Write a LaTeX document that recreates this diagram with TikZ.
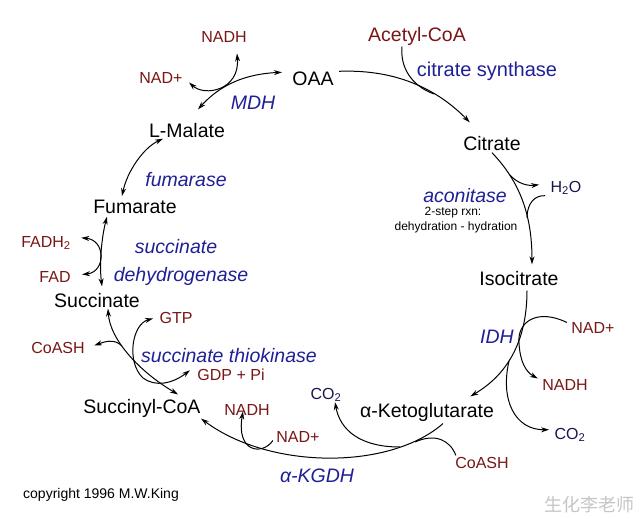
\documentclass[tikz,border=0pt]{standalone}
\usepackage{fontspec}
\setmainfont{Liberation Sans}
\newfontfamily\cjkfont{Noto Sans CJK SC}
\usepackage{xcolor}
\usepackage{tikz}
\usetikzlibrary{arrows.meta}
\definecolor{cofred}{RGB}{122,22,22}
\definecolor{enzblue}{RGB}{32,32,150}
\definecolor{gasnavy}{RGB}{22,22,80}

\begin{document}
\begin{tikzpicture}[>={Stealth[length=8pt,width=5pt]}, x=1pt, y=-1pt, line width=1pt,
    metab/.style={anchor=base, inner sep=2pt, font=\fontsize{19.5}{22}\selectfont},
    cofac/.style={anchor=base, inner sep=2pt, text=cofred, font=\fontsize{16}{18}\selectfont},
    gas/.style={cofac, text=gasnavy},
    enz/.style={anchor=base, inner sep=1pt, text=enzblue, font=\fontsize{19.5}{22}\selectfont\itshape},
    note/.style={anchor=base, inner sep=1pt, font=\fontsize{12}{13}\selectfont}]
    % Khung
    \useasboundingbox (0,0) rectangle (640,519);
    \fill[white] (0,0) rectangle (640,519);
    % Các chất chính
    \node[metab] (oaa) at (313,85) {OAA};
    \node[metab, text=cofred] (acoa) at (417,42) {Acetyl-CoA};
    \node[metab] (cit) at (492,150) {Citrate};
    \node[metab] (icit) at (519,285) {Isocitrate};
    \node[metab] (akg) at (427,417) {α-Ketoglutarate};
    \node[metab] (sucoa) at (142,413) {Succinyl-CoA};
    \node[metab] (succ) at (97,307) {Succinate};
    \node[metab] (fum) at (135,213) {Fumarate};
    \node[metab] (mal) at (187,137) {L-Malate};
    % Enzym
    \node[enz, font=\fontsize{20}{22}\selectfont] (cs) at (487,77) {citrate synthase};
    \node[enz] (acon) at (465,202) {aconitase};
    \node[note] (rxn1) at (453,215) {2-step rxn:};
    \node[note] (rxn2) at (456,230) {dehydration - hydration};
    \node[enz] (idh) at (497,343) {IDH};
    \node[enz] (kgdh) at (317,482) {α-KGDH};
    \node[enz] (sthk) at (229,362) {succinate thiokinase};
    \node[enz] (sdh1) at (176,253) {succinate};
    \node[enz] (sdh2) at (181,281) {dehydrogenase};
    \node[enz] (fumase) at (186,186) {fumarase};
    \node[enz] (mdh) at (253,110) {MDH};
    % Chất phụ
    \node[cofac] (nadhA) at (224,43) {NADH};
    \node[cofac] (nadA) at (161,84) {NAD+};
    \node[gas] (h2o) at (566,192) {H\textsubscript{2}O};
    \node[cofac] (nadB) at (593,333) {NAD+};
    \node[cofac] (nadhB) at (565,390) {NADH};
    \node[gas] (co2B) at (570,439) {CO\textsubscript{2}};
    \node[gas] (co2C) at (326,399) {CO\textsubscript{2}};
    \node[cofac] (coashC) at (482,468) {CoASH};
    \node[cofac] (nadC) at (298,442) {NAD+};
    \node[cofac] (nadhC) at (247,415) {NADH};
    \node[cofac] (gdp) at (231,380) {GDP + Pi};
    \node[cofac] (gtp) at (176,323) {GTP};
    \node[cofac] (coashD) at (58,353) {CoASH};
    \node[cofac] (fad) at (55,282) {FAD};
    \node[cofac] (fadh) at (46,247) {FADH\textsubscript{2}};
    \node[anchor=base, font=\fontsize{14}{16}\selectfont] (copy) at (101,498) {copyright 1996 M.W.King};
    \node[text=gray!45, font=\cjkfont\fontsize{18}{20}\selectfont] (wm) at (589,505) {生化李老师};
    % Điểm nối
    \coordinate (jcs) at (434,94);
    \coordinate (jh2oa) at (510,175);
    \coordinate (jh2ob) at (527,218);
    \coordinate (jidh) at (519,343);
    \coordinate (jco2b) at (509,361);
    \coordinate (jco2c) at (400,447);
    \coordinate (jcoac) at (415,442);
    \coordinate (jsucc) at (122,346);
    \coordinate (jgtp) at (143,378);
    % Mũi tên chính
    \draw[->] ([shift={(3,-7)}]oaa.east) .. controls (400,69) and (440,92) .. ([shift={(9,-11)}]cit.north west);
    \draw[->] (cit.south) .. controls (520,182) and (532,215) .. ([shift={(13,-4)}]icit.north);
    \draw[->] ([shift={(8,3)}]icit.south) .. controls (527,330) and (515,370) .. ([shift={(-26,-4)}]akg.north east);
    \draw[->] ([shift={(16,0)}]akg.south) .. controls (390,470) and (270,470) .. ([shift={(-2,-1)}]sucoa.south east);
    \draw[<->] ([shift={(36,-2)}]sucoa.north) .. controls (140,372) and (110,340) .. ([shift={(11,-1)}]succ.south);
    \draw[<->] ([shift={(5,-4)}]succ.north) .. controls (99,262) and (102,236) .. ([shift={(-28,1)}]fum.south);
    \draw[<->] ([shift={(-13,-1)}]fum.north) .. controls (127,172) and (143,148) .. ([shift={(-24,-1)}]mal.south);
    \draw[<->] ([shift={(11,-11)}]mal.north) .. controls (220,85) and (245,74) .. ([shift={(-8,-6)}]oaa.west);
    % Nhánh phụ
    \draw ([shift={(-15,-2)}]acoa.south) .. controls (400,68) and (412,86) .. (jcs);
    \draw[->] (jh2oa) .. controls (518,184) and (528,186) .. ([shift={(-9,-3)}]h2o.west);
    \draw ([shift={(-3,8)}]h2o.west) .. controls (535,195) and (527,203) .. (jh2ob);
    \draw[->] ([shift={(-2,-5)}]nadB.west) .. controls (537,308) and (517,322) .. (jidh)
        .. controls (520,362) and (526,372) .. ([shift={(-2,-6)}]nadhB.west);
    \draw[->] (jco2b) .. controls (500,400) and (515,430) .. ([shift={(-3,-5)}]co2B.west);
    \draw[->] (jco2c) .. controls (360,447) and (340,430) .. ([shift={(9,-2)}]co2C.south);
    \draw ([shift={(3,1)}]coashC.north west) .. controls (450,440) and (435,433) .. (jcoac);
    \draw[->] ([shift={(-1,4)}]nadC.west) .. controls (262,456) and (236,452) .. ([shift={(-4,-6)}]nadhC.south);
    \draw[->] (jsucc) .. controls (114,338) and (104,342) .. ([shift={(7,-2)}]coashD.east);
    \draw[<->] ([shift={(-4,1)}]gtp.west) .. controls (132,324) and (126,362) .. (jgtp)
        .. controls (155,387) and (172,384) .. ([shift={(-5,-4)}]gdp.west);
    \draw[<->] ([shift={(8,-5)}]fadh.east) .. controls (106,240) and (106,272) .. ([shift={(9,-2)}]fad.east);
    \draw[<->] ([shift={(4,4)}]nadA.east) .. controls (205,97) and (240,90) .. ([shift={(13,8)}]nadhA.south);
\end{tikzpicture}
\end{document}
